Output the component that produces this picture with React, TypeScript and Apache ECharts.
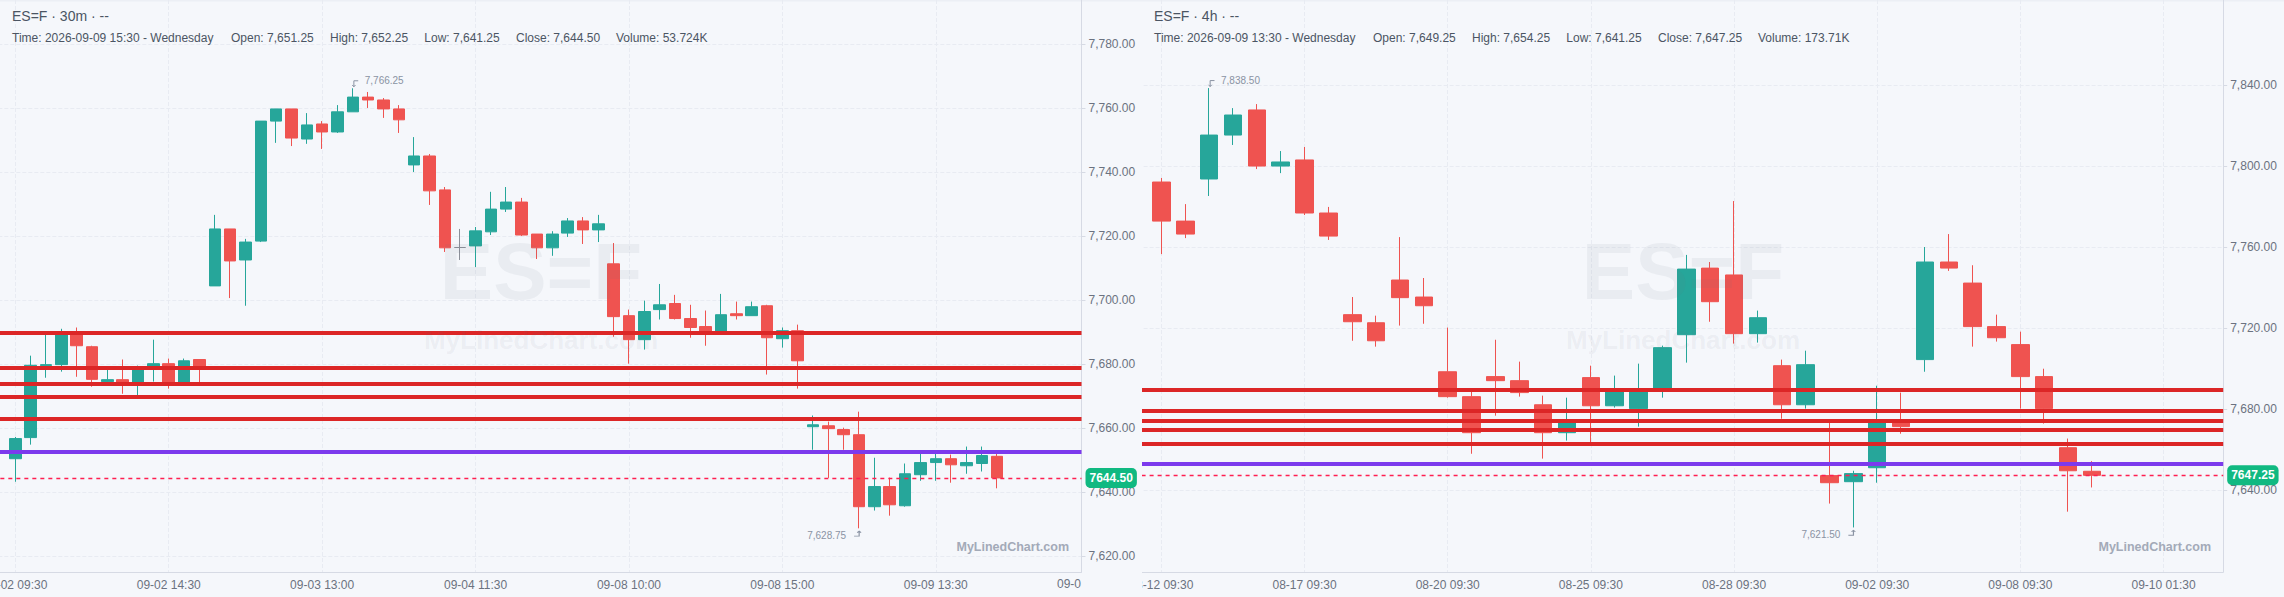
import React, { useEffect, useRef } from "react";
import * as echarts from "echarts";

const levelLines = [7689.75, 7679, 7674, 7670, 7663];
const pivotLine = 7652.75;

// 30m panel
const opens30 = [
  7650.5, 7657.1, 7679.6, 7679.9, 7689.6, 7685.5, 7674.6, 7675.2, 7674.3, 7678.9, 7680.2, 7674.3, 7681.5,
  7704.5, 7722.3, 7712.6, 7718.5, 7756, 7759.8, 7750.4, 7755.1, 7752.6, 7758.9, 7763.5, 7762.6, 7759.8,
  7742.3, 7745.1, 7734.5, 7716.5, 7717, 7721.4, 7728.5, 7730.7, 7720.7, 7716.4, 7721, 7724.8, 7722,
  7711.4, 7695.2, 7687.7, 7697.1, 7699, 7694.3, 7691.8, 7690.2, 7695.8, 7695.2, 7698.3, 7688, 7690.5,
  7660.5, 7660.8, 7659.6, 7658, 7635.5, 7641.8, 7635.8, 7645.5, 7649.3, 7650.5, 7648.3, 7649, 7651.25,
];
const closes30 = [
  7656.8, 7679.7, 7679.9, 7689.6, 7685.8, 7675.3, 7675.2, 7674.4, 7679, 7680.2, 7674.3, 7681.1, 7678.6,
  7722.3, 7712.3, 7718.2, 7756, 7759.8, 7750.7, 7754.8, 7752.6, 7758.9, 7763.5, 7762.6, 7759.8, 7756.4,
  7745.1, 7734.2, 7716.4, 7716.5, 7721.7, 7728.5, 7730.7, 7720.4, 7716.4, 7720.7, 7724.8, 7722, 7723.9,
  7694.9, 7687.7, 7696.5, 7698.6, 7694.3, 7691.5, 7689.6, 7695.5, 7695.2, 7698, 7688.3, 7690.5, 7681.1,
  7661.1, 7659.9, 7658, 7635.5, 7641.8, 7636.1, 7645.8, 7649.3, 7650.5, 7648.6, 7649.3, 7651.5, 7644.5,
];
const highs30 = [
  7657.3, 7682.7, 7689.6, 7691.1, 7691.5, 7685.8, 7678.3, 7681.5, 7679.6, 7687.7, 7681.8, 7681.8, 7681.5,
  7726.7, 7722.3, 7719.2, 7756, 7759.8, 7759.8, 7758.5, 7756, 7761, 7766.25, 7765.1, 7763.2, 7761,
  7751, 7745.7, 7735.4, 7722.3, 7722.9, 7733.9, 7735.4, 7732, 7720.7, 7721.6, 7725.7, 7726, 7726.7,
  7717.9, 7697.1, 7699.9, 7705.1, 7701.7, 7698.6, 7696.8, 7702, 7699.6, 7699.6, 7698.6, 7691.5, 7692.4,
  7664, 7662.1, 7660.2, 7665.2, 7650.8, 7644.6, 7649, 7652.7, 7652.4, 7651.8, 7654.3, 7654.3, 7652.25,
];
const lows30 = [
  7643.3, 7654.9, 7675.8, 7677.7, 7676.1, 7673, 7674.4, 7670.8, 7670.4, 7674.6, 7672.4, 7674.3, 7674.4,
  7704.5, 7700.7, 7698.3, 7718.2, 7749.2, 7748.2, 7748.9, 7747.3, 7752.3, 7758.9, 7760.1, 7757, 7752.3,
  7740.1, 7729.8, 7715.1, 7712.6, 7710.4, 7720.4, 7727.6, 7720.1, 7712.9, 7713.9, 7719.8, 7717.6, 7718.2,
  7688.6, 7680.2, 7684.6, 7694, 7694, 7688.3, 7685.8, 7690, 7694, 7695.2, 7676.8, 7685.2, 7672.4,
  7653.3, 7644.5, 7653.3, 7628.75, 7634.3, 7632.7, 7635.5, 7643.6, 7643.6, 7643, 7645.8, 7646.5, 7641.25,
];
const ticks30 = ["09-02 09:30", "09-02 14:30", "09-03 13:00", "09-04 11:30", "09-08 10:00", "09-08 15:00", "09-09 13:30"];
const yTicks30 = [7620, 7640, 7660, 7680, 7700, 7720, 7740, 7760, 7780];
const info30 = ["Time: 2026-09-09 15:30 - Wednesday", "Open: 7,651.25", "High: 7,652.25", "Low: 7,641.25", "Close: 7,644.50", "Volume: 53.724K"];

// 4h panel
const opens4h = [
  7792.1, 7772.8, 7793.6, 7815.3, 7827.7, 7800, 7803, 7776.8, 7726.6, 7722.6, 7743.7, 7735.3, 7698.4, 7686.1,
  7696, 7694, 7682.1, 7668.3, 7695.5, 7681.6, 7680.2, 7690, 7716.7, 7749.6, 7746.2, 7717.2, 7701.4, 7682.1,
  7647.1, 7644.1, 7651, 7674.2, 7704.4, 7752.6, 7742.2, 7720.7, 7711.8, 7696, 7660.9, 7649.25,
];
const closes4h = [
  7772.8, 7766.4, 7815.3, 7825.2, 7800, 7802, 7776.8, 7765.4, 7723.1, 7713.7, 7735, 7731, 7686.1, 7668.3,
  7694, 7688.1, 7668.3, 7673.3, 7681.6, 7690, 7690, 7710.3, 7749.1, 7733, 7717.2, 7725.1, 7682.1, 7701.9,
  7643.6, 7648.1, 7674, 7671.3, 7752.6, 7749.6, 7720.7, 7715.2, 7696, 7680.2, 7649.5, 7647.25,
];
const highs4h = [
  7794.1, 7781.2, 7838.5, 7828.6, 7830.6, 7807.4, 7809.4, 7779.8, 7735.3, 7726.1, 7764.9, 7744.7, 7720.2, 7688.6,
  7714.2, 7703.4, 7686.6, 7685.6, 7701.4, 7696.5, 7702.4, 7711.3, 7756.1, 7752.6, 7782.7, 7728.6, 7704.4, 7708.8,
  7673.7, 7649.5, 7691.5, 7688.1, 7760, 7766.4, 7751, 7726.6, 7718.2, 7699.9, 7665.4, 7654.25,
];
const lows4h = [
  7756.5, 7764.4, 7785.2, 7810.4, 7798.5, 7796.5, 7775.8, 7763.5, 7713.7, 7710.8, 7721.2, 7722.1, 7685.6, 7657.9,
  7676.7, 7686.1, 7655.5, 7664.4, 7663.4, 7680.7, 7671.3, 7685.6, 7702.9, 7723.1, 7712.3, 7712.8, 7675.2, 7680.2,
  7633.3, 7621.5, 7643.6, 7667.8, 7698.4, 7748.2, 7710.8, 7713.3, 7680.2, 7672.8, 7629.3, 7641.25,
];
const ticks4h = ["08-12 09:30", "08-17 09:30", "08-20 09:30", "08-25 09:30", "08-28 09:30", "09-02 09:30", "09-08 09:30", "09-10 01:30"];
const yTicks4h = [7640, 7680, 7720, 7760, 7800, 7840];
const info4h = ["Time: 2026-09-09 13:30 - Wednesday", "Open: 7,649.25", "High: 7,654.25", "Low: 7,641.25", "Close: 7,647.25", "Volume: 173.71K"];

const infoX = [12, 231, 330, 424.3, 516, 616];
const fontFamily = '"Liberation Sans", Arial, sans-serif';
const price = (v: number) => v.toLocaleString("en-US", { minimumFractionDigits: 2, maximumFractionDigits: 2 });

interface PanelProps {
  title: string;
  info: string[];
  opens: number[];
  closes: number[];
  highs: number[];
  lows: number[];
  tickLabels: string[];
  tickStep: number;
  categoryCount: number;
  gridLeft: number;
  gridWidth: number;
  bodyWidth: number;
  yMin: number;
  yMax: number;
  yTicks: number[];
  clippedLabel?: string;
}

const Panel = (p: PanelProps) => {
  const chartRef = useRef<HTMLDivElement>(null);

  useEffect(() => {
    if (!chartRef.current) return;
    const chart = echarts.init(chartRef.current, undefined, { renderer: "svg" });

    // one blank slot in front so the first candle sits a full step from the edge
    const categories = Array.from({ length: p.categoryCount }, (_, i) =>
      (i - 1) % p.tickStep === 0 ? p.tickLabels[(i - 1) / p.tickStep] ?? "" : ""
    );
    const showTick = (i: number) => (i - 1) % p.tickStep === 0;
    const candles: any[] = [["-", "-", "-", "-"]];
    p.opens.forEach((o, i) => candles.push([o, p.closes[i], p.lows[i], p.highs[i]]));

    const high = Math.max(...p.highs);
    const low = Math.min(...p.lows);
    const last = p.closes[p.closes.length - 1];

    const levelData: any[] = levelLines.map((v) => ({
      yAxis: v,
      lineStyle: { color: "#dc2626", width: 4, type: "solid", opacity: 1 },
      label: { show: false },
    }));

    const options: any = {
      animation: false,
      backgroundColor: "#f5f7fb",
      textStyle: { fontFamily },
      grid: { left: p.gridLeft, width: p.gridWidth, top: 0, height: 572, outerBoundsMode: "none" },
      xAxis: {
        type: "category",
        data: categories,
        boundaryGap: true,
        axisLine: { lineStyle: { color: "#d6dae4", width: 1 } },
        axisTick: { interval: (i: number) => showTick(i), alignWithLabel: true, length: 4, lineStyle: { color: "#d6dae4" } },
        axisLabel: { interval: (i: number) => showTick(i), color: "#6b7280", fontSize: 12, margin: 7, fontFamily, hideOverlap: false },
        splitLine: {
          show: true,
          interval: (i: number) => showTick(i),
          alignWithLabel: true,
          lineStyle: { color: "#e8ebf2", type: "dashed" },
        },
      },
      yAxis: {
        type: "value",
        position: "right",
        min: p.yMin,
        max: p.yMax,
        axisLine: { show: true, lineStyle: { color: "#d6dae4", width: 1 } },
        axisTick: { show: true, customValues: p.yTicks, length: 4, lineStyle: { color: "#d6dae4" } },
        axisLabel: { customValues: p.yTicks, color: "#6b7280", fontSize: 12, margin: 7, fontFamily, formatter: price },
        splitLine: { show: true, lineStyle: { color: "#e8ebf2", type: "dashed" } },
      },
      series: [
        {
          type: "candlestick",
          data: candles,
          barWidth: p.bodyWidth,
          itemStyle: {
            color: "#26a69a",
            color0: "#ef5350",
            borderColor: "#26a69a",
            borderColor0: "#ef5350",
            borderColorDoji: "#8b8f98",
            borderWidth: 1,
          },
          markLine: {
            silent: true,
            symbol: ["none", "none"],
            animation: false,
            data: [
              ...levelData,
              {
                yAxis: pivotLine,
                lineStyle: { color: "#7c3aed", width: 4, type: "solid", opacity: 1 },
                label: { show: false },
              },
              {
                yAxis: last,
                lineStyle: { color: "#ff1f50", width: 1.4, type: [4, 4], opacity: 1 },
                label: {
                  show: true,
                  position: "end",
                  distance: 4,
                  formatter: last.toFixed(2),
                  color: "#ffffff",
                  fontWeight: "bold",
                  fontSize: 12,
                  fontFamily,
                  backgroundColor: "#10b981",
                  borderRadius: 5,
                  padding: [4, 4],
                },
              },
            ],
          },
          markPoint: {
            silent: true,
            animation: false,
            itemStyle: { color: "none", borderColor: "#8a93a3", borderWidth: 1 },
            data: [
              {
                coord: [p.highs.indexOf(high) + 1, high],
                symbol: "path://M12 1H4V11M1 8L4 11L7 8",
                symbolSize: [6, 6],
                symbolOffset: [2.4, -4.5],
                label: {
                  show: true,
                  position: "right",
                  distance: 4,
                  offset: [0, -3],
                  formatter: price(high),
                  color: "#8a93a3",
                  fontSize: 10,
                  fontFamily,
                },
              },
              {
                coord: [p.lows.indexOf(low) + 1, low],
                symbol: "path://M0 11H8V1M5 4L8 1L11 4",
                symbolSize: [7, 5],
                symbolOffset: [-1.5, 5.3],
                label: {
                  show: true,
                  position: "left",
                  distance: 5,
                  offset: [0, 1.5],
                  formatter: price(low),
                  color: "#8a93a3",
                  fontSize: 10,
                  fontFamily,
                },
              },
            ],
          },
        },
      ],
      graphic: [
        { type: "rect", shape: { x: 0, y: 0, width: 1142, height: 1.5 }, silent: true, style: { fill: "#eceff5" } },
        { type: "text", x: 12, y: 16, z: 20, style: { text: p.title, fill: "#4b5563", fontSize: 14, fontFamily, verticalAlign: "middle" } },
        ...p.info.map((t, i) => ({
          type: "text",
          x: infoX[i],
          y: 38,
          z: 20,
          style: { text: t, fill: "#4b5563", fontSize: 12, fontFamily, verticalAlign: "middle" },
        })),
        {
          type: "text",
          x: 541,
          y: 271,
          z: 20,
          silent: true,
          style: { text: "ES=F", fill: "rgba(107,114,128,0.08)", fontSize: 80, fontWeight: "bold", fontFamily, align: "center", verticalAlign: "middle" },
        },
        {
          type: "text",
          x: 541,
          y: 340,
          z: 20,
          silent: true,
          style: { text: "MyLinedChart.com", fill: "rgba(107,114,128,0.08)", fontSize: 26, fontWeight: "bold", fontFamily, align: "center", verticalAlign: "middle" },
        },
        {
          type: "text",
          x: 1069,
          y: 547,
          z: 20,
          silent: true,
          style: { text: "MyLinedChart.com", fill: "#a3aab8", fontSize: 12.5, fontWeight: "bold", fontFamily, align: "right", verticalAlign: "middle" },
        },
        ...(p.clippedLabel
          ? [{
              type: "text",
              x: 1081,
              y: 584,
              style: { text: p.clippedLabel, fill: "#6b7280", fontSize: 12, fontFamily, align: "right", verticalAlign: "middle" },
            }]
          : []),
      ],
    };

    chart.setOption(options);

    return () => {
      chart.dispose();
    };
  }, []);

  return <div ref={chartRef} style={{ width: 1142, height: 597, flex: "none" }} />;
};

const App = () => {
  useEffect(() => {
    document.body.style.margin = "0";
    document.body.style.overflow = "hidden";
  }, []);

  return (
    <div style={{ display: "flex", width: 2284, height: 597, background: "#f5f7fb" }}>
      <Panel
        title="ES=F · 30m · --"
        info={info30}
        opens={opens30}
        closes={closes30}
        highs={highs30}
        lows={lows30}
        tickLabels={ticks30}
        tickStep={10}
        categoryCount={71}
        gridLeft={-7.67}
        gridWidth={1089.17}
        bodyWidth={12}
        yMin={7615.1}
        yMax={7793.84}
        yTicks={yTicks30}
        clippedLabel="09-0"
      />
      <Panel
        title="ES=F · 4h · --"
        info={info4h}
        opens={opens4h}
        closes={closes4h}
        highs={highs4h}
        lows={lows4h}
        tickLabels={ticks4h}
        tickStep={6}
        categoryCount={46}
        gridLeft={-16.4}
        gridWidth={1097.6}
        bodyWidth={18}
        yMin={7599.5}
        yMax={7882}
        yTicks={yTicks4h}
      />
    </div>
  );
};

export default App;
